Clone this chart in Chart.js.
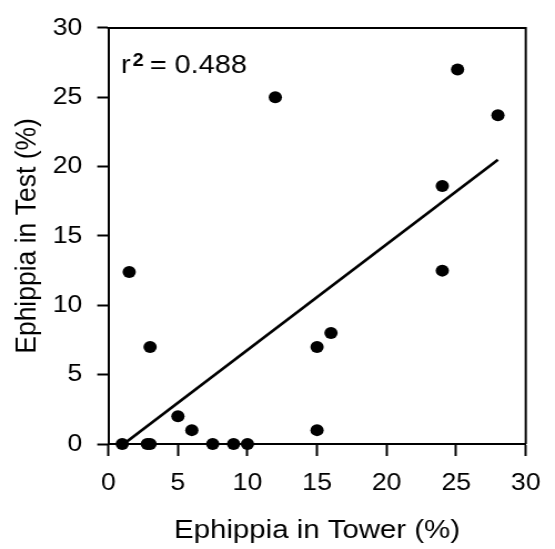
<!DOCTYPE html>
<html>
<head>
<meta charset="utf-8">
<script src="https://cdn.jsdelivr.net/npm/chart.js@4"></script>
<style>
  html, body { margin: 0; padding: 0; background: #fff; overflow: hidden; }
</style>
</head>
<body>
<!-- the source figure is stretched sideways a little, so the canvas is drawn narrower and widened by css -->
<canvas id="myChart" width="500" height="549" style="width:555px;height:549px;display:block"></canvas>
<script>
const ctx = document.querySelector("#myChart").getContext("2d");

// Ephippia percentages
const towerPct = [1, 1.5, 2.8, 3, 3, 5, 6, 7.5, 9, 10, 12, 15, 15, 16, 24, 24, 25.1, 28];
const testPct  = [0, 12.4, 0, 0, 7, 2, 1, 0, 0, 0, 25, 7, 1, 8, 18.6, 12.5, 27, 23.7];

// regression line ends
const fitX = [1.1, 28];
const fitY = [0, 20.5];

const tickValues = [0, 5, 10, 15, 20, 25, 30];
const rSquared = "0.488";

const FONT = "'Liberation Sans', Arial, sans-serif";

const points = towerPct.map((x, i) => ({ x: x, y: testPct[i] }));
const fitLine = fitX.map((x, i) => ({ x: x, y: fitY[i] }));

// top/right frame lines and the r² note
const framePlugin = {
    id: "frame",
    afterDatasetsDraw(chart) {
        const { ctx, chartArea: a, scales } = chart;
        ctx.save();
        ctx.strokeStyle = "#000";
        ctx.lineWidth = 2;
        ctx.beginPath();
        ctx.moveTo(a.left - 1, a.top);
        ctx.lineTo(a.right, a.top);
        ctx.lineTo(a.right, a.bottom);
        ctx.stroke();

        const x0 = scales.x.getPixelForValue(0.9);
        const y0 = scales.y.getPixelForValue(26.75);
        ctx.fillStyle = "#000";
        ctx.textBaseline = "alphabetic";
        ctx.textAlign = "left";
        ctx.font = "26px " + FONT;
        ctx.fillText("r", x0, y0);
        ctx.font = "bold 18px " + FONT;
        ctx.fillText("2", x0 + 10.5, y0 - 6.5);
        ctx.font = "26px " + FONT;
        ctx.fillText("= " + rSquared, x0 + 26, y0);
        ctx.restore();
    }
};

const tickOpts = {
    color: "#000",
    font: { family: FONT, size: 24 },
    autoSkip: false,
    maxRotation: 0
};

const config = {
    data: {
        datasets: [
            {
                type: "scatter",
                data: points,
                backgroundColor: "#000",
                borderWidth: 0,
                pointRadius: 6,
                clip: false,
                order: 1
            },
            {
                type: "line",
                data: fitLine,
                borderColor: "#000",
                borderWidth: 2.7,
                pointRadius: 0,
                fill: false,
                tension: 0,
                order: 2
            }
        ]
    },
    options: {
        responsive: false,
        animation: false,
        events: [],
        layout: { padding: { left: 0, top: 20, right: 21, bottom: 0 } },
        plugins: { legend: { display: false }, tooltip: { enabled: false } },
        scales: {
            x: {
                type: "linear",
                min: 0,
                max: 30,
                afterFit: (scale) => { scale.height = 105; },
                afterBuildTicks: (scale) => { scale.ticks = tickValues.map(v => ({ value: v })); },
                ticks: { ...tickOpts, padding: 13 },
                grid: { drawOnChartArea: false, drawTicks: true, tickLength: 12, tickColor: "#000", tickWidth: 2 },
                border: { color: "#000", width: 2 },
                title: {
                    display: true,
                    text: "Ephippia in Tower (%)",
                    color: "#000",
                    font: { family: FONT, size: 26.5 },
                    padding: { top: 0, bottom: 2 }
                }
            },
            y: {
                type: "linear",
                min: 0,
                max: 30,
                afterFit: (scale) => { scale.width = 97.6; },
                afterBuildTicks: (scale) => { scale.ticks = tickValues.map(v => ({ value: v })); },
                ticks: { ...tickOpts, padding: 13.5 },
                grid: { drawOnChartArea: false, drawTicks: true, tickLength: 10, tickColor: "#000", tickWidth: 2 },
                border: { color: "#000", width: 2 },
                title: {
                    display: true,
                    text: "Ephippia in Test (%)",
                    color: "#000",
                    font: { family: FONT, size: 26.5 },
                    padding: { top: 9, bottom: 0 }
                }
            }
        }
    },
    plugins: [framePlugin]
};

const myChart = new Chart(ctx, config);
</script>
</body>
</html>
